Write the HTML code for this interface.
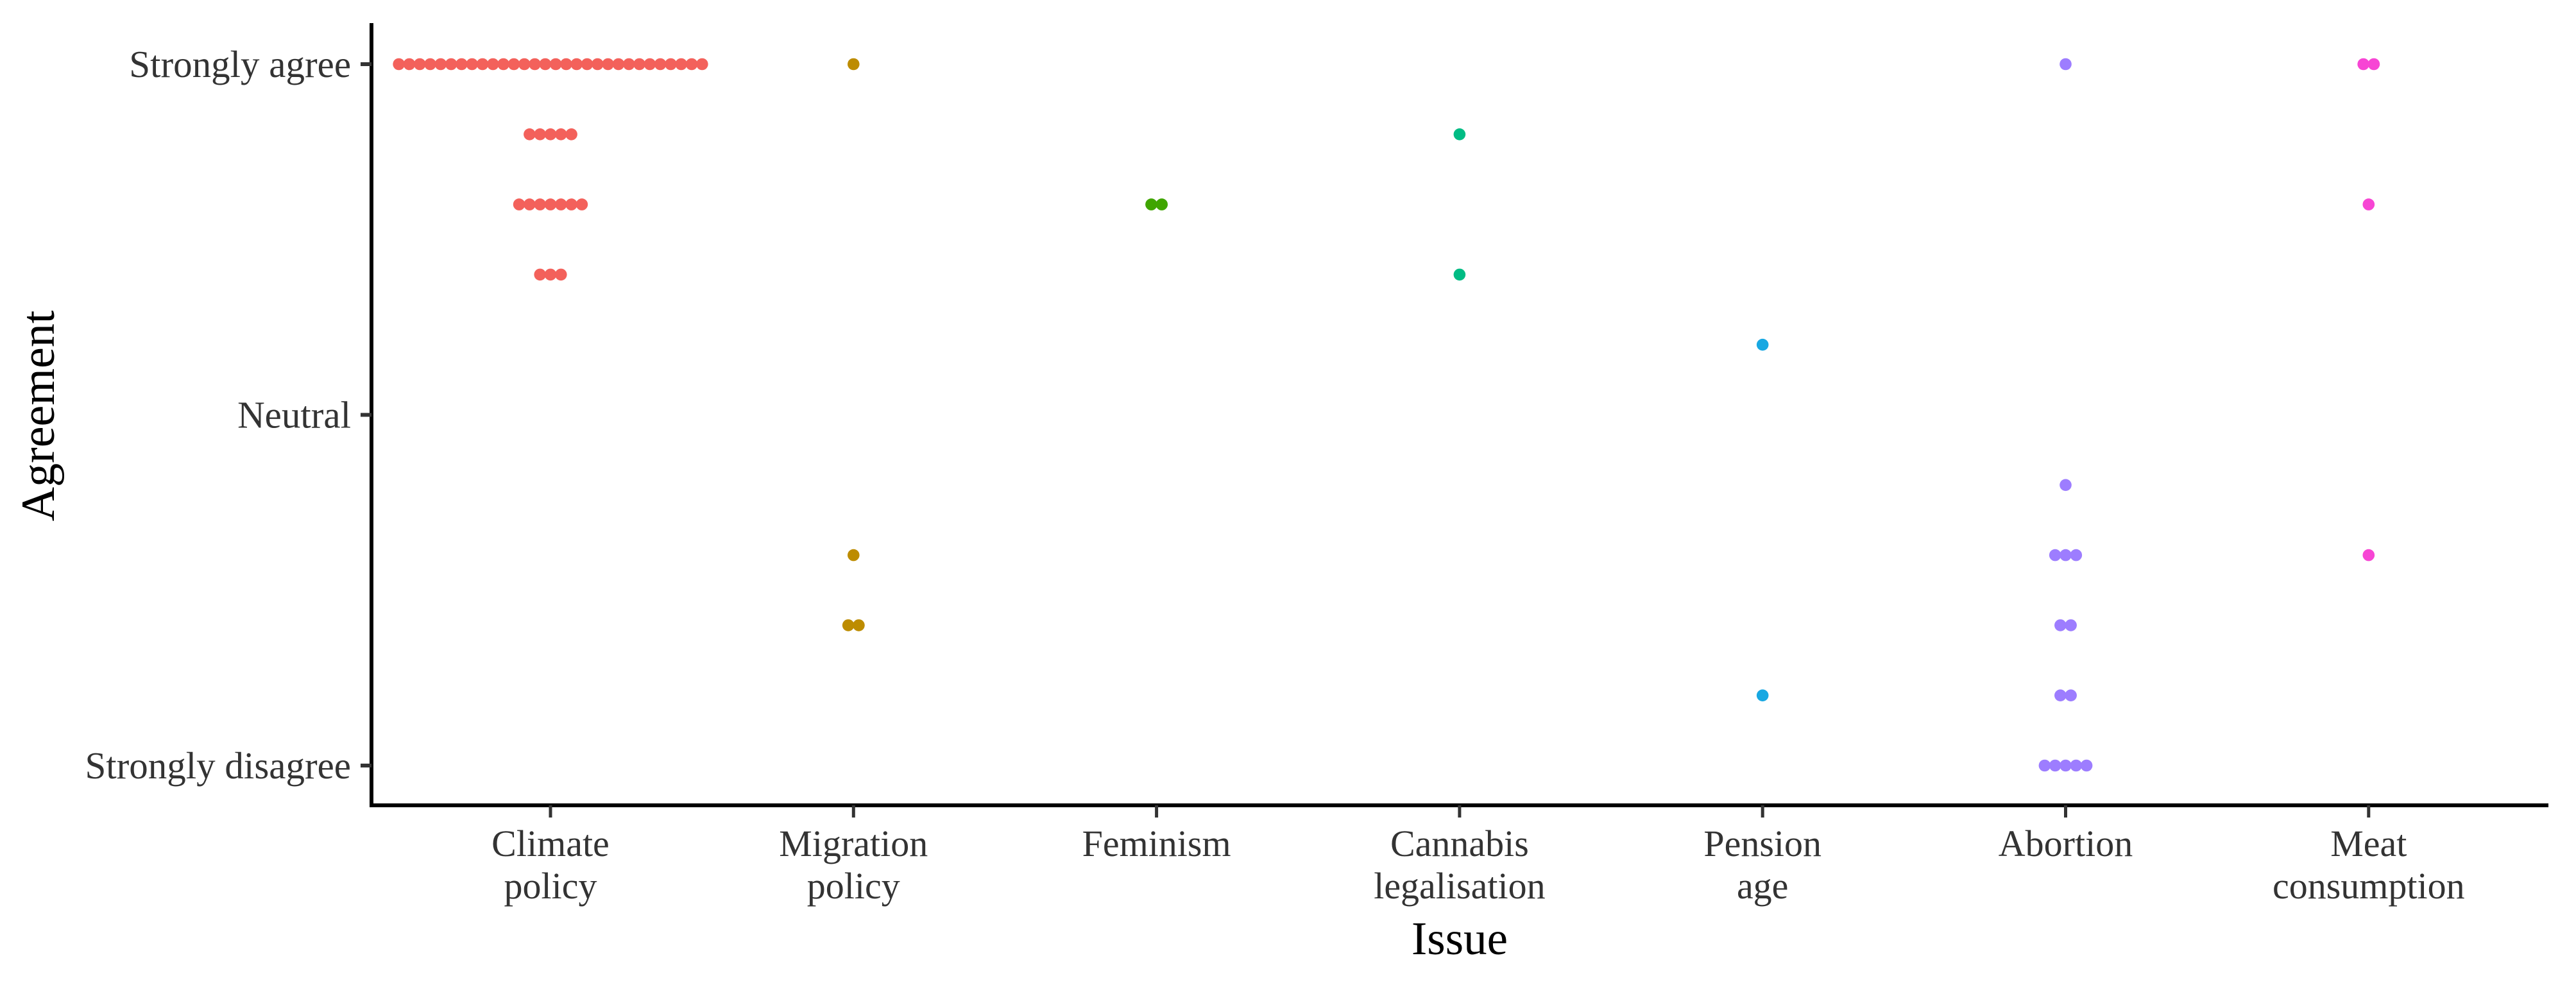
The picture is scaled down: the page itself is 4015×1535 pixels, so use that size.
<!DOCTYPE html>
<html><head><meta charset="utf-8">
<style>
html,body{margin:0;padding:0;background:#fff;}
svg{display:block;}
text{font-family:"Liberation Serif",serif;}
</style></head>
<body>
<svg id="chart" width="4015" height="1535" viewBox="0 0 4015 1535" xmlns="http://www.w3.org/2000/svg">
<g id="marks"></g>
<line x1="579" y1="36" x2="579" y2="1258" stroke="#000" stroke-width="6"/>
<line x1="576" y1="1255" x2="3972" y2="1255" stroke="#000" stroke-width="6"/>
<g id="yticks"></g>
<g id="xticks"></g>
<text x="2275" y="1487" font-size="73" text-anchor="middle" fill="#000">Issue</text>
<text transform="translate(84,648) rotate(-90)" font-size="74" text-anchor="middle" fill="#000">Agreement</text>
</svg>
<script>
const categories = [["Climate","policy"],["Migration","policy"],["Feminism"],["Cannabis","legalisation"],["Pension","age"],["Abortion"],["Meat","consumption"]];
const colors = ["#F3615B","#BD8C00","#3FA500","#00BC84","#18A8E2","#9D7DFF","#F745D4"];
const yTickLevels = [0,5,10];
const yTickLabels = ["Strongly disagree","Neutral","Strongly agree"];
// counts per level (0..10) for each issue
const climateCounts   = [0,0,0,0,0,0,0,3,7,5,30];
const migrationCounts = [0,0,2,1,0,0,0,0,0,0,1];
const feminismCounts  = [0,0,0,0,0,0,0,0,2,0,0];
const cannabisCounts  = [0,0,0,0,0,0,0,1,0,1,0];
const pensionCounts   = [0,1,0,0,0,0,1,0,0,0,0];
const abortionCounts  = [5,2,2,3,1,0,0,0,0,0,1];
const meatCounts      = [0,0,0,1,0,0,0,0,1,0,2];
const seriesCounts = [climateCounts,migrationCounts,feminismCounts,cannabisCounts,pensionCounts,abortionCounts,meatCounts];

const NS="http://www.w3.org/2000/svg";
const xScale = i => 858 + i*472.3;
const yScale = v => 1193 - v*109.3;
const dotStep = 16.3, dotR = 9.3;

const marks=document.getElementById('marks');
seriesCounts.forEach((counts,ci)=>{
  counts.forEach((n,lvl)=>{
    for(let k=0;k<n;k++){
      const c=document.createElementNS(NS,'circle');
      
      
      c.setAttribute('cx', xScale(ci) + (k-(n-1)/2)*dotStep);
      c.setAttribute('cy', yScale(lvl));
      c.setAttribute('r', dotR);
      c.setAttribute('fill', colors[ci]);
      marks.appendChild(c);
    }
  });
});

const yt=document.getElementById('yticks');
yTickLevels.forEach((v,i)=>{
  const l=document.createElementNS(NS,'line');
  
  
  l.setAttribute('x1',562);l.setAttribute('x2',579);
  l.setAttribute('y1',yScale(v));l.setAttribute('y2',yScale(v));
  l.setAttribute('stroke','#333');l.setAttribute('stroke-width',6);
  yt.appendChild(l);
  const t=document.createElementNS(NS,'text');
  
  
  t.setAttribute('x',547);t.setAttribute('y',yScale(v)+20);
  t.setAttribute('font-size',59);t.setAttribute('text-anchor','end');t.setAttribute('fill','#333');
  t.textContent=yTickLabels[i];
  yt.appendChild(t);
});

const xt=document.getElementById('xticks');
categories.forEach((lines,i)=>{
  const x=xScale(i);
  const l=document.createElementNS(NS,'line');
  
  
  l.setAttribute('x1',x);l.setAttribute('x2',x);
  l.setAttribute('y1',1255);l.setAttribute('y2',1274);
  l.setAttribute('stroke','#333');l.setAttribute('stroke-width',5);
  xt.appendChild(l);
  lines.forEach((s,j)=>{
    const t=document.createElementNS(NS,'text');
    
    
    t.setAttribute('x',x);t.setAttribute('y',1334+j*66);
    t.setAttribute('font-size',58);t.setAttribute('text-anchor','middle');t.setAttribute('fill','#333');
    t.textContent=s;
    xt.appendChild(t);
  });
});
</script>
</body></html>
